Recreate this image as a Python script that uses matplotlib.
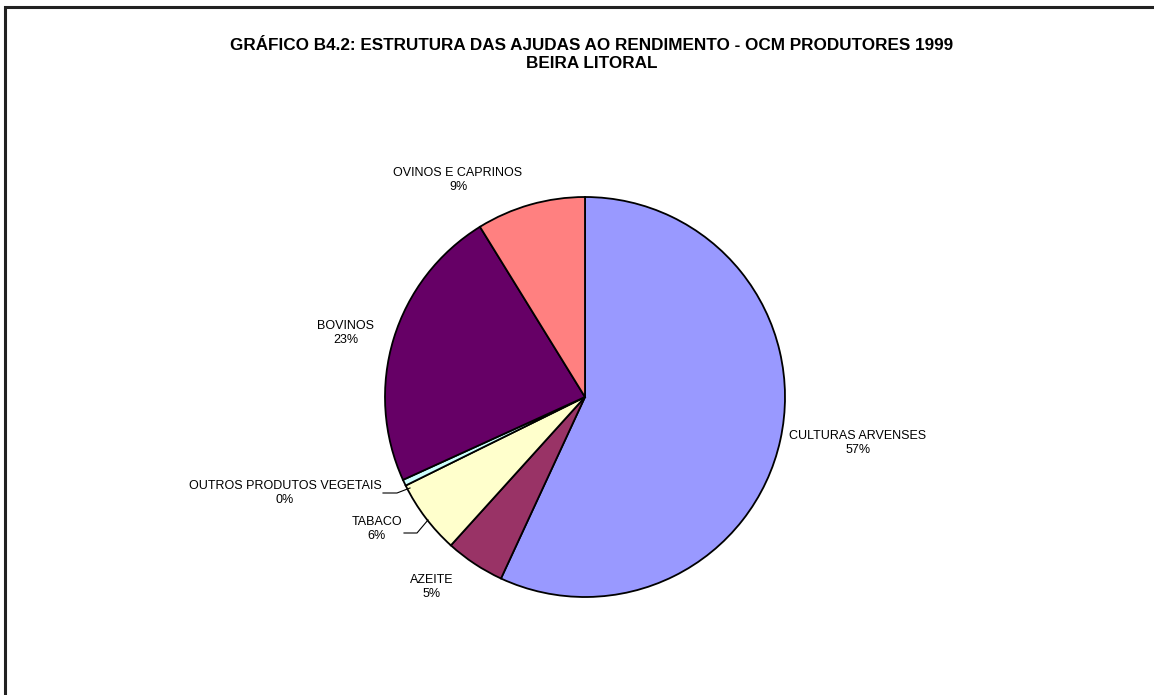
import matplotlib
matplotlib.use("Agg")
import matplotlib.pyplot as plt
from matplotlib.patches import Rectangle

plt.rcParams["font.family"] = ["Liberation Sans", "DejaVu Sans"]

# ── Data ────────────────────────────────────────────────────────────────
categories = ["CULTURAS ARVENSES", "AZEITE", "TABACO",
              "OUTROS PRODUTOS VEGETAIS", "BOVINOS", "OVINOS E CAPRINOS"]
shares = [56.9, 4.8, 6.0, 0.5, 23.0, 8.8]
pct_labels = ["57%", "5%", "6%", "0%", "23%", "9%"]
colors = ["#9999FF", "#993366", "#FFFFCC", "#CCFFFF", "#660066", "#FF8080"]

W, H = 1154, 695
fig = plt.figure(figsize=(W / 100, H / 100), dpi=100)
ax = fig.add_axes([0, 0, 1, 1])
ax.set_xlim(0, W)
ax.set_ylim(0, H)
ax.set_aspect("equal")
ax.axis("off")


def py(y):
    # pixel row (from top) -> axes y
    return H - y


# outer frame (runs off the right/bottom edges)
ax.add_patch(Rectangle((5, py(800)), 1300, 800 - 7, fill=False,
                       edgecolor="#222222", linewidth=2.2, zorder=0))

ax.text(592, py(46), "GRÁFICO B4.2: ESTRUTURA DAS AJUDAS AO RENDIMENTO - OCM PRODUTORES 1999",
        ha="center", va="center", fontsize=12.3, fontweight="bold")
ax.text(592, py(64), "BEIRA LITORAL",
        ha="center", va="center", fontsize=12.3, fontweight="bold")

ax.pie(shares, colors=colors, startangle=90, counterclock=False,
       center=(585, py(397)), radius=200,
       wedgeprops=dict(edgecolor="black", linewidth=1.3))
ax.set_xlim(0, W)
ax.set_ylim(0, H)

# label positions (centre of label block, pixel coords)
label_pos = [(858, 443), (432, 587), (377, 529), (285, 493), (346, 333), (458, 180)]
for name, pct, (lx, ly) in zip(categories, pct_labels, label_pos):
    ax.text(lx, py(ly), f"{name}\n{pct}", ha="center", va="center",
            fontsize=9, linespacing=1.28)

# leader lines
ax.plot([383, 397, 410], [py(493), py(493), py(488)], color="black", lw=0.8)
ax.plot([404, 417, 428], [py(533), py(533), py(520)], color="black", lw=0.8)

fig.savefig("out.png", dpi=100)
